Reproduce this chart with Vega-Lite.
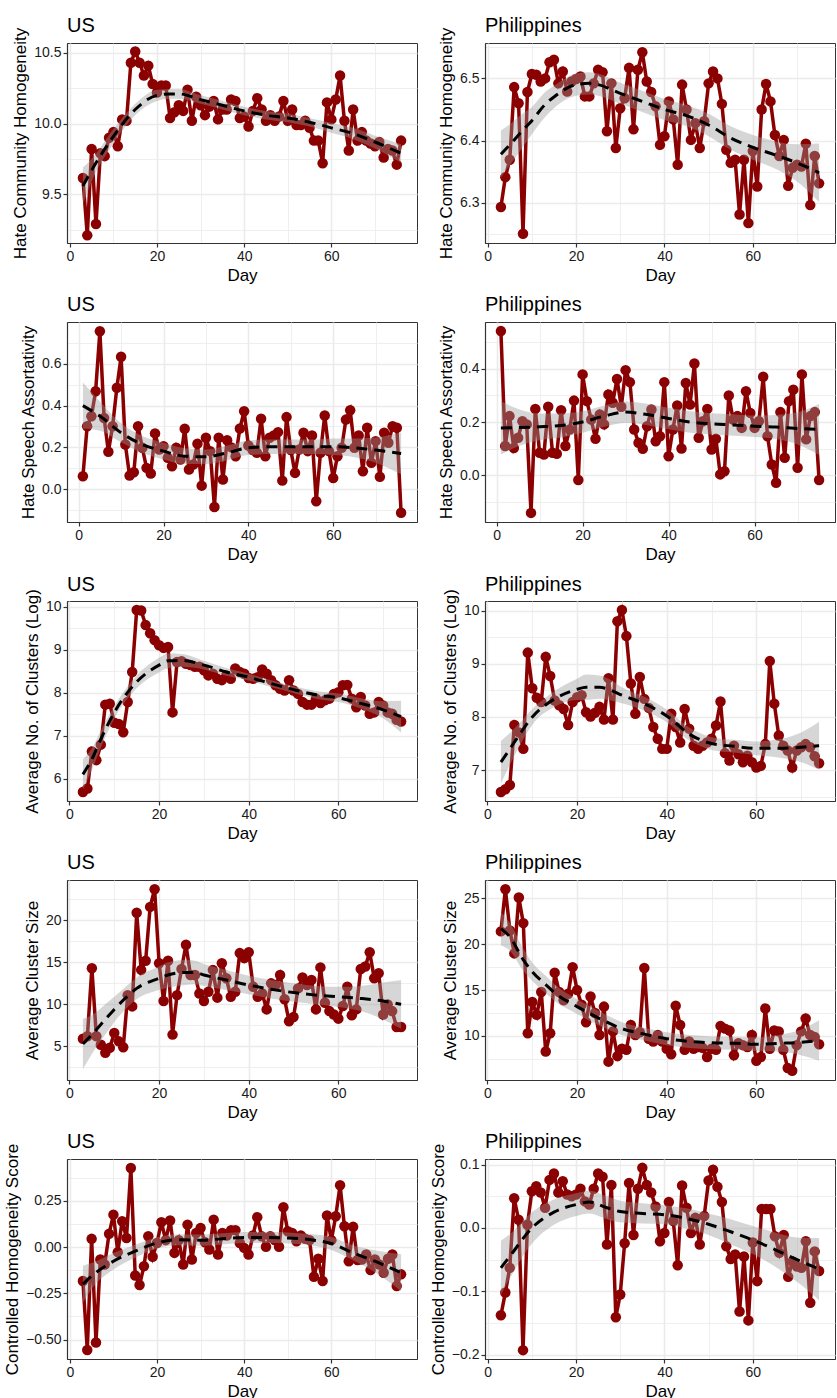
{
"$schema": "https://vega.github.io/schema/vega-lite/v6.json",
"background": "white",
"padding": {"left": 3, "top": 15, "right": 0, "bottom": 0},
"config": {
 "font": "Liberation Sans",
 "view": {"stroke": "#333333", "strokeWidth": 1},
 "title": {"fontSize": 20, "fontWeight": "normal", "anchor": "start", "frame": "group", "offset": 8, "color": "#000000"},
 "axis": {"labelFontSize": 14, "titleFontSize": 17, "titleFontWeight": "normal", "labelColor": "#1a1a1a", "titleColor": "#000000", "domainColor": "#333333", "domainWidth": 1.2, "tickColor": "#333333", "tickSize": 4, "tickWidth": 1.2, "gridColor": "#EBEBEB", "labelPadding": 2, "titlePadding": 4, "labelOverlap": false, "tickCount": 20},
 "axisX": {"labelFlush": false}
},
"datasets": {
"p1": [{"d":3,"v":9.615},{"d":4,"v":9.21},{"d":5,"v":9.82},{"d":6,"v":9.29},{"d":7,"v":9.79},{"d":8,"v":9.77},{"d":9,"v":9.9},{"d":10,"v":9.94},{"d":11,"v":9.84},{"d":12,"v":10.03},{"d":13,"v":10.02},{"d":14,"v":10.43},{"d":15,"v":10.51},{"d":16,"v":10.43},{"d":17,"v":10.34},{"d":18,"v":10.41},{"d":19,"v":10.28},{"d":20,"v":10.22},{"d":21,"v":10.27},{"d":22,"v":10.27},{"d":23,"v":10.04},{"d":24,"v":10.08},{"d":25,"v":10.13},{"d":26,"v":10.09},{"d":27,"v":10.24},{"d":28,"v":10.02},{"d":29,"v":10.19},{"d":30,"v":10.13},{"d":31,"v":10.06},{"d":32,"v":10.12},{"d":33,"v":10.16},{"d":34,"v":10.03},{"d":35,"v":10.1},{"d":36,"v":10.1},{"d":37,"v":10.17},{"d":38,"v":10.16},{"d":39,"v":10.04},{"d":40,"v":10.05},{"d":41,"v":9.98},{"d":42,"v":10.09},{"d":43,"v":10.18},{"d":44,"v":10.1},{"d":45,"v":10.02},{"d":46,"v":10.06},{"d":47,"v":10.02},{"d":48,"v":10.05},{"d":49,"v":10.16},{"d":50,"v":10.02},{"d":51,"v":10.1},{"d":52,"v":9.99},{"d":53,"v":9.99},{"d":54,"v":10.02},{"d":55,"v":9.97},{"d":56,"v":9.88},{"d":57,"v":9.88},{"d":58,"v":9.72},{"d":59,"v":10.15},{"d":60,"v":10.03},{"d":61,"v":10.17},{"d":62,"v":10.34},{"d":63,"v":10.02},{"d":64,"v":9.81},{"d":65,"v":10.1},{"d":66,"v":9.88},{"d":67,"v":9.94},{"d":68,"v":9.88},{"d":69,"v":9.86},{"d":70,"v":9.84},{"d":71,"v":9.87},{"d":72,"v":9.76},{"d":73,"v":9.82},{"d":74,"v":9.81},{"d":75,"v":9.71},{"d":76,"v":9.88}],
"p1s": [{"d":3,"f":9.56,"lo":9.43,"hi":9.69},{"d":5,"f":9.67,"lo":9.59,"hi":9.75},{"d":10,"f":9.91,"lo":9.86,"hi":9.96},{"d":15,"f":10.1,"lo":10.06,"hi":10.14},{"d":20,"f":10.2,"lo":10.16,"hi":10.24},{"d":23,"f":10.21,"lo":10.175,"hi":10.245},{"d":25,"f":10.21,"lo":10.175,"hi":10.245},{"d":30,"f":10.17,"lo":10.14,"hi":10.2},{"d":35,"f":10.13,"lo":10.1,"hi":10.16},{"d":40,"f":10.09,"lo":10.06,"hi":10.12},{"d":45,"f":10.06,"lo":10.03,"hi":10.09},{"d":50,"f":10.04,"lo":10.01,"hi":10.07},{"d":55,"f":10.01,"lo":9.98,"hi":10.04},{"d":60,"f":9.97,"lo":9.935,"hi":10.005},{"d":65,"f":9.93,"lo":9.89,"hi":9.97},{"d":70,"f":9.87,"lo":9.825,"hi":9.915},{"d":76,"f":9.79,"lo":9.725,"hi":9.855}],
"p2": [{"d":3,"v":6.293},{"d":4,"v":6.341},{"d":5,"v":6.369},{"d":6,"v":6.486},{"d":7,"v":6.46},{"d":8,"v":6.25},{"d":9,"v":6.478},{"d":10,"v":6.507},{"d":11,"v":6.506},{"d":12,"v":6.495},{"d":13,"v":6.5},{"d":14,"v":6.526},{"d":15,"v":6.53},{"d":16,"v":6.492},{"d":17,"v":6.511},{"d":18,"v":6.479},{"d":19,"v":6.495},{"d":20,"v":6.499},{"d":21,"v":6.503},{"d":22,"v":6.471},{"d":23,"v":6.471},{"d":24,"v":6.492},{"d":25,"v":6.514},{"d":26,"v":6.51},{"d":27,"v":6.415},{"d":28,"v":6.492},{"d":29,"v":6.388},{"d":30,"v":6.452},{"d":31,"v":6.468},{"d":32,"v":6.517},{"d":33,"v":6.418},{"d":34,"v":6.514},{"d":35,"v":6.542},{"d":36,"v":6.495},{"d":37,"v":6.478},{"d":38,"v":6.455},{"d":39,"v":6.393},{"d":40,"v":6.407},{"d":41,"v":6.463},{"d":42,"v":6.434},{"d":43,"v":6.361},{"d":44,"v":6.49},{"d":45,"v":6.45},{"d":46,"v":6.401},{"d":47,"v":6.428},{"d":48,"v":6.388},{"d":49,"v":6.431},{"d":50,"v":6.492},{"d":51,"v":6.511},{"d":52,"v":6.5},{"d":53,"v":6.459},{"d":54,"v":6.385},{"d":55,"v":6.364},{"d":56,"v":6.369},{"d":57,"v":6.281},{"d":58,"v":6.369},{"d":59,"v":6.267},{"d":60,"v":6.383},{"d":61,"v":6.326},{"d":62,"v":6.45},{"d":63,"v":6.491},{"d":64,"v":6.463},{"d":65,"v":6.409},{"d":66,"v":6.375},{"d":67,"v":6.401},{"d":68,"v":6.327},{"d":69,"v":6.356},{"d":70,"v":6.361},{"d":71,"v":6.358},{"d":72,"v":6.395},{"d":73,"v":6.296},{"d":74,"v":6.375},{"d":75,"v":6.331}],
"p2s": [{"d":3,"f":6.378,"lo":6.34,"hi":6.416},{"d":5,"f":6.393,"lo":6.36,"hi":6.426},{"d":8,"f":6.417,"lo":6.39,"hi":6.444},{"d":10,"f":6.432,"lo":6.41,"hi":6.454},{"d":13,"f":6.458,"lo":6.438,"hi":6.478},{"d":15,"f":6.47,"lo":6.452,"hi":6.488},{"d":20,"f":6.49,"lo":6.472,"hi":6.508},{"d":23,"f":6.492,"lo":6.474,"hi":6.51},{"d":25,"f":6.49,"lo":6.472,"hi":6.508},{"d":30,"f":6.476,"lo":6.459,"hi":6.493},{"d":35,"f":6.463,"lo":6.446,"hi":6.48},{"d":40,"f":6.45,"lo":6.433,"hi":6.467},{"d":45,"f":6.44,"lo":6.423,"hi":6.457},{"d":50,"f":6.425,"lo":6.407,"hi":6.443},{"d":55,"f":6.404,"lo":6.385,"hi":6.423},{"d":60,"f":6.389,"lo":6.369,"hi":6.409},{"d":65,"f":6.377,"lo":6.355,"hi":6.399},{"d":70,"f":6.364,"lo":6.334,"hi":6.394},{"d":75,"f":6.348,"lo":6.301,"hi":6.395}],
"p3": [{"d":1,"v":0.062},{"d":2,"v":0.301},{"d":3,"v":0.349},{"d":4,"v":0.469},{"d":5,"v":0.756},{"d":6,"v":0.341},{"d":7,"v":0.179},{"d":8,"v":0.301},{"d":9,"v":0.485},{"d":10,"v":0.634},{"d":11,"v":0.214},{"d":12,"v":0.065},{"d":13,"v":0.081},{"d":14,"v":0.301},{"d":15,"v":0.198},{"d":16,"v":0.102},{"d":17,"v":0.075},{"d":18,"v":0.267},{"d":19,"v":0.19},{"d":20,"v":0.206},{"d":21,"v":0.15},{"d":22,"v":0.11},{"d":23,"v":0.198},{"d":24,"v":0.142},{"d":25,"v":0.289},{"d":26,"v":0.094},{"d":27,"v":0.118},{"d":28,"v":0.218},{"d":29,"v":0.017},{"d":30,"v":0.246},{"d":31,"v":0.182},{"d":32,"v":-0.085},{"d":33,"v":0.246},{"d":34,"v":0.046},{"d":35,"v":0.234},{"d":36,"v":0.2},{"d":37,"v":0.158},{"d":38,"v":0.29},{"d":39,"v":0.373},{"d":40,"v":0.209},{"d":41,"v":0.187},{"d":42,"v":0.174},{"d":43,"v":0.337},{"d":44,"v":0.158},{"d":45,"v":0.246},{"d":46,"v":0.257},{"d":47,"v":0.273},{"d":48,"v":0.041},{"d":49,"v":0.345},{"d":50,"v":0.187},{"d":51,"v":0.078},{"d":52,"v":0.19},{"d":53,"v":0.27},{"d":54,"v":0.182},{"d":55,"v":0.257},{"d":56,"v":-0.058},{"d":57,"v":0.174},{"d":58,"v":0.353},{"d":59,"v":0.182},{"d":60,"v":0.053},{"d":61,"v":0.158},{"d":62,"v":0.198},{"d":63,"v":0.333},{"d":64,"v":0.378},{"d":65,"v":0.198},{"d":66,"v":0.257},{"d":67,"v":0.086},{"d":68,"v":0.294},{"d":69,"v":0.126},{"d":70,"v":0.23},{"d":71,"v":0.059},{"d":72,"v":0.27},{"d":73,"v":0.222},{"d":74,"v":0.301},{"d":75,"v":0.294},{"d":76,"v":-0.113}],
"p3s": [{"d":1,"f":0.4,"lo":0.29,"hi":0.51},{"d":5,"f":0.35,"lo":0.28,"hi":0.42},{"d":10,"f":0.27,"lo":0.225,"hi":0.315},{"d":15,"f":0.214,"lo":0.174,"hi":0.254},{"d":20,"f":0.182,"lo":0.142,"hi":0.222},{"d":25,"f":0.158,"lo":0.12,"hi":0.196},{"d":30,"f":0.155,"lo":0.12,"hi":0.19},{"d":35,"f":0.174,"lo":0.139,"hi":0.209},{"d":40,"f":0.198,"lo":0.163,"hi":0.233},{"d":45,"f":0.203,"lo":0.168,"hi":0.238},{"d":50,"f":0.203,"lo":0.168,"hi":0.238},{"d":55,"f":0.203,"lo":0.168,"hi":0.238},{"d":60,"f":0.203,"lo":0.163,"hi":0.243},{"d":65,"f":0.198,"lo":0.153,"hi":0.243},{"d":70,"f":0.187,"lo":0.127,"hi":0.247},{"d":76,"f":0.171,"lo":0.071,"hi":0.271}],
"p4": [{"d":1,"v":0.54},{"d":2,"v":0.11},{"d":3,"v":0.222},{"d":4,"v":0.103},{"d":5,"v":0.141},{"d":6,"v":0.203},{"d":7,"v":0.191},{"d":8,"v":-0.14},{"d":9,"v":0.249},{"d":10,"v":0.085},{"d":11,"v":0.078},{"d":12,"v":0.257},{"d":13,"v":0.085},{"d":14,"v":0.081},{"d":15,"v":0.244},{"d":16,"v":0.11},{"d":17,"v":0.172},{"d":18,"v":0.28},{"d":19,"v":-0.017},{"d":20,"v":0.378},{"d":21,"v":0.278},{"d":22,"v":0.209},{"d":23,"v":0.137},{"d":24,"v":0.228},{"d":25,"v":0.191},{"d":26,"v":0.303},{"d":27,"v":0.272},{"d":28,"v":0.361},{"d":29,"v":0.257},{"d":30,"v":0.394},{"d":31,"v":0.349},{"d":32,"v":0.172},{"d":33,"v":0.122},{"d":34,"v":0.1},{"d":35,"v":0.184},{"d":36,"v":0.247},{"d":37,"v":0.128},{"d":38,"v":0.147},{"d":39,"v":0.349},{"d":40,"v":0.072},{"d":41,"v":0.172},{"d":42,"v":0.262},{"d":43,"v":0.101},{"d":44,"v":0.346},{"d":45,"v":0.265},{"d":46,"v":0.419},{"d":47,"v":0.141},{"d":48,"v":0.203},{"d":49,"v":0.249},{"d":50,"v":0.097},{"d":51,"v":0.137},{"d":52,"v":0.004},{"d":53,"v":0.016},{"d":54,"v":0.299},{"d":55,"v":0.209},{"d":56,"v":0.222},{"d":57,"v":0.178},{"d":58,"v":0.315},{"d":59,"v":0.234},{"d":60,"v":0.178},{"d":61,"v":0.203},{"d":62,"v":0.369},{"d":63,"v":0.147},{"d":64,"v":0.041},{"d":65,"v":-0.027},{"d":66,"v":0.237},{"d":67,"v":0.066},{"d":68,"v":0.278},{"d":69,"v":0.321},{"d":70,"v":0.029},{"d":71,"v":0.378},{"d":72,"v":0.135},{"d":73,"v":0.222},{"d":74,"v":0.237},{"d":75,"v":-0.017}],
"p4s": [{"d":1,"f":0.178,"lo":0.078,"hi":0.278},{"d":5,"f":0.179,"lo":0.109,"hi":0.249},{"d":10,"f":0.182,"lo":0.132,"hi":0.232},{"d":15,"f":0.187,"lo":0.142,"hi":0.232},{"d":20,"f":0.2,"lo":0.16,"hi":0.24},{"d":25,"f":0.222,"lo":0.182,"hi":0.262},{"d":30,"f":0.237,"lo":0.197,"hi":0.277},{"d":35,"f":0.228,"lo":0.188,"hi":0.268},{"d":40,"f":0.213,"lo":0.173,"hi":0.253},{"d":45,"f":0.2,"lo":0.16,"hi":0.24},{"d":50,"f":0.193,"lo":0.153,"hi":0.233},{"d":55,"f":0.189,"lo":0.149,"hi":0.229},{"d":60,"f":0.184,"lo":0.144,"hi":0.224},{"d":65,"f":0.181,"lo":0.136,"hi":0.226},{"d":70,"f":0.176,"lo":0.116,"hi":0.236},{"d":75,"f":0.172,"lo":0.077,"hi":0.267}],
"p5": [{"d":3,"v":5.69},{"d":4,"v":5.77},{"d":5,"v":6.63},{"d":6,"v":6.43},{"d":7,"v":6.79},{"d":8,"v":7.72},{"d":9,"v":7.74},{"d":10,"v":7.3},{"d":11,"v":7.27},{"d":12,"v":7.08},{"d":13,"v":7.78},{"d":14,"v":8.48},{"d":15,"v":9.92},{"d":16,"v":9.91},{"d":17,"v":9.57},{"d":18,"v":9.38},{"d":19,"v":9.22},{"d":20,"v":9.1},{"d":21,"v":9.04},{"d":22,"v":9.06},{"d":23,"v":7.54},{"d":24,"v":8.71},{"d":25,"v":8.73},{"d":26,"v":8.67},{"d":27,"v":8.64},{"d":28,"v":8.6},{"d":29,"v":8.6},{"d":30,"v":8.52},{"d":31,"v":8.4},{"d":32,"v":8.44},{"d":33,"v":8.32},{"d":34,"v":8.29},{"d":35,"v":8.4},{"d":36,"v":8.32},{"d":37,"v":8.56},{"d":38,"v":8.48},{"d":39,"v":8.44},{"d":40,"v":8.34},{"d":41,"v":8.32},{"d":42,"v":8.36},{"d":43,"v":8.54},{"d":44,"v":8.44},{"d":45,"v":8.29},{"d":46,"v":8.17},{"d":47,"v":8.09},{"d":48,"v":8.05},{"d":49,"v":8.29},{"d":50,"v":8.05},{"d":51,"v":7.97},{"d":52,"v":7.78},{"d":53,"v":7.72},{"d":54,"v":7.72},{"d":55,"v":7.86},{"d":56,"v":7.76},{"d":57,"v":7.82},{"d":58,"v":7.86},{"d":59,"v":7.97},{"d":60,"v":8.01},{"d":61,"v":8.17},{"d":62,"v":8.18},{"d":63,"v":7.86},{"d":64,"v":7.66},{"d":65,"v":7.9},{"d":66,"v":7.7},{"d":67,"v":7.51},{"d":68,"v":7.54},{"d":69,"v":7.78},{"d":70,"v":7.7},{"d":71,"v":7.54},{"d":72,"v":7.51},{"d":73,"v":7.37},{"d":74,"v":7.33}],
"p5s": [{"d":3,"f":6.1,"lo":5.75,"hi":6.45},{"d":5,"f":6.45,"lo":6.2,"hi":6.7},{"d":7,"f":6.92,"lo":6.72,"hi":7.12},{"d":10,"f":7.54,"lo":7.39,"hi":7.69},{"d":15,"f":8.25,"lo":8.1,"hi":8.4},{"d":20,"f":8.64,"lo":8.47,"hi":8.81},{"d":22,"f":8.74,"lo":8.57,"hi":8.91},{"d":25,"f":8.75,"lo":8.6,"hi":8.9},{"d":30,"f":8.64,"lo":8.54,"hi":8.74},{"d":35,"f":8.48,"lo":8.39,"hi":8.57},{"d":40,"f":8.36,"lo":8.28,"hi":8.44},{"d":45,"f":8.21,"lo":8.13,"hi":8.29},{"d":50,"f":8.07,"lo":7.99,"hi":8.15},{"d":55,"f":7.95,"lo":7.86,"hi":8.04},{"d":60,"f":7.88,"lo":7.78,"hi":7.98},{"d":65,"f":7.75,"lo":7.63,"hi":7.87},{"d":70,"f":7.6,"lo":7.4,"hi":7.8},{"d":74,"f":7.44,"lo":7.07,"hi":7.81}],
"p6": [{"d":3,"v":6.59},{"d":4,"v":6.64},{"d":5,"v":6.72},{"d":6,"v":7.85},{"d":7,"v":7.71},{"d":8,"v":7.4},{"d":9,"v":9.21},{"d":10,"v":8.54},{"d":11,"v":8.36},{"d":12,"v":8.28},{"d":13,"v":9.13},{"d":14,"v":8.77},{"d":15,"v":8.31},{"d":16,"v":8.22},{"d":17,"v":8.15},{"d":18,"v":7.85},{"d":19,"v":8.28},{"d":20,"v":8.37},{"d":21,"v":8.41},{"d":22,"v":8.09},{"d":23,"v":8.01},{"d":24,"v":8.08},{"d":25,"v":8.19},{"d":26,"v":7.95},{"d":27,"v":8.73},{"d":28,"v":7.95},{"d":29,"v":9.8},{"d":30,"v":10.01},{"d":31,"v":9.52},{"d":32,"v":8.63},{"d":33,"v":8.06},{"d":34,"v":8.75},{"d":35,"v":8.34},{"d":36,"v":8.17},{"d":37,"v":7.81},{"d":38,"v":7.59},{"d":39,"v":7.4},{"d":40,"v":7.4},{"d":41,"v":8.06},{"d":42,"v":7.81},{"d":43,"v":7.52},{"d":44,"v":8.15},{"d":45,"v":7.78},{"d":46,"v":7.46},{"d":47,"v":7.4},{"d":48,"v":7.46},{"d":49,"v":7.52},{"d":50,"v":7.59},{"d":51,"v":7.84},{"d":52,"v":8.29},{"d":53,"v":7.32},{"d":54,"v":7.18},{"d":55,"v":7.46},{"d":56,"v":7.3},{"d":57,"v":7.15},{"d":58,"v":7.27},{"d":59,"v":7.15},{"d":60,"v":7.05},{"d":61,"v":7.08},{"d":62,"v":7.49},{"d":63,"v":9.05},{"d":64,"v":8.25},{"d":65,"v":7.65},{"d":66,"v":7.46},{"d":67,"v":7.37},{"d":68,"v":7.05},{"d":69,"v":7.37},{"d":70,"v":7.43},{"d":71,"v":7.49},{"d":72,"v":7.43},{"d":73,"v":7.26},{"d":74,"v":7.13}],
"p6s": [{"d":3,"f":7.15,"lo":6.75,"hi":7.55},{"d":5,"f":7.4,"lo":7.1,"hi":7.7},{"d":7,"f":7.65,"lo":7.43,"hi":7.87},{"d":10,"f":8.0,"lo":7.85,"hi":8.15},{"d":15,"f":8.34,"lo":8.19,"hi":8.49},{"d":20,"f":8.52,"lo":8.32,"hi":8.72},{"d":22,"f":8.56,"lo":8.32,"hi":8.8},{"d":25,"f":8.56,"lo":8.34,"hi":8.78},{"d":27,"f":8.52,"lo":8.32,"hi":8.72},{"d":30,"f":8.41,"lo":8.26,"hi":8.56},{"d":35,"f":8.25,"lo":8.12,"hi":8.38},{"d":40,"f":8.02,"lo":7.9,"hi":8.14},{"d":45,"f":7.68,"lo":7.56,"hi":7.8},{"d":50,"f":7.5,"lo":7.38,"hi":7.62},{"d":55,"f":7.45,"lo":7.33,"hi":7.57},{"d":60,"f":7.41,"lo":7.28,"hi":7.54},{"d":65,"f":7.41,"lo":7.24,"hi":7.58},{"d":70,"f":7.43,"lo":7.15,"hi":7.71},{"d":74,"f":7.46,"lo":7.01,"hi":7.91}],
"p7": [{"d":3,"v":5.9},{"d":4,"v":6.2},{"d":5,"v":14.3},{"d":6,"v":6.2},{"d":7,"v":5.2},{"d":8,"v":4.25},{"d":9,"v":4.84},{"d":10,"v":6.6},{"d":11,"v":5.6},{"d":12,"v":4.9},{"d":13,"v":11.1},{"d":14,"v":9.76},{"d":15,"v":20.9},{"d":16,"v":14.1},{"d":17,"v":15.2},{"d":18,"v":21.6},{"d":19,"v":23.7},{"d":20,"v":14.9},{"d":21,"v":10.4},{"d":22,"v":15.2},{"d":23,"v":6.4},{"d":24,"v":11.1},{"d":25,"v":14.2},{"d":26,"v":17.1},{"d":27,"v":13.5},{"d":28,"v":13.5},{"d":29,"v":11.3},{"d":30,"v":10.4},{"d":31,"v":11.5},{"d":32,"v":14.1},{"d":33,"v":10.8},{"d":34,"v":14.9},{"d":35,"v":13.1},{"d":36,"v":10.9},{"d":37,"v":11.5},{"d":38,"v":16.1},{"d":39,"v":15.5},{"d":40,"v":16.2},{"d":41,"v":12.1},{"d":42,"v":10.9},{"d":43,"v":11.3},{"d":44,"v":9.4},{"d":45,"v":12.5},{"d":46,"v":12.3},{"d":47,"v":13.5},{"d":48,"v":10.6},{"d":49,"v":8.0},{"d":50,"v":8.5},{"d":51,"v":11.9},{"d":52,"v":13.2},{"d":53,"v":12.3},{"d":54,"v":12.9},{"d":55,"v":9.4},{"d":56,"v":14.4},{"d":57,"v":10.2},{"d":58,"v":9.2},{"d":59,"v":8.8},{"d":60,"v":8.3},{"d":61,"v":9.8},{"d":62,"v":12.1},{"d":63,"v":8.7},{"d":64,"v":9.4},{"d":65,"v":14.2},{"d":66,"v":14.5},{"d":67,"v":16.2},{"d":68,"v":13.1},{"d":69,"v":13.7},{"d":70,"v":8.8},{"d":71,"v":10.0},{"d":72,"v":9.2},{"d":73,"v":7.3},{"d":74,"v":7.3}],
"p7s": [{"d":3,"f":5.3,"lo":2.3,"hi":8.3},{"d":5,"f":6.4,"lo":4.1,"hi":8.7},{"d":8,"f":8.2,"lo":6.4,"hi":10.0},{"d":10,"f":9.4,"lo":7.9,"hi":10.9},{"d":13,"f":11.0,"lo":9.7,"hi":12.3},{"d":15,"f":11.9,"lo":10.6,"hi":13.2},{"d":20,"f":13.1,"lo":11.7,"hi":14.5},{"d":22,"f":13.5,"lo":12.0,"hi":15.0},{"d":26,"f":13.8,"lo":12.3,"hi":15.3},{"d":28,"f":13.8,"lo":12.4,"hi":15.2},{"d":30,"f":13.5,"lo":12.2,"hi":14.8},{"d":35,"f":12.9,"lo":11.7,"hi":14.1},{"d":40,"f":12.3,"lo":11.2,"hi":13.4},{"d":45,"f":11.8,"lo":10.7,"hi":12.9},{"d":50,"f":11.4,"lo":10.3,"hi":12.5},{"d":55,"f":11.1,"lo":10.0,"hi":12.2},{"d":60,"f":10.9,"lo":9.7,"hi":12.1},{"d":65,"f":10.7,"lo":9.2,"hi":12.2},{"d":70,"f":10.4,"lo":8.2,"hi":12.6},{"d":74,"f":10.0,"lo":7.1,"hi":12.9}],
"p8": [{"d":3,"v":21.4},{"d":4,"v":26.0},{"d":5,"v":21.5},{"d":6,"v":19.0},{"d":7,"v":25.1},{"d":8,"v":22.3},{"d":9,"v":10.3},{"d":10,"v":13.7},{"d":11,"v":12.3},{"d":12,"v":14.8},{"d":13,"v":8.3},{"d":14,"v":10.3},{"d":15,"v":16.9},{"d":16,"v":14.8},{"d":17,"v":13.9},{"d":18,"v":14.6},{"d":19,"v":17.5},{"d":20,"v":15.0},{"d":21,"v":13.4},{"d":22,"v":11.5},{"d":23,"v":14.3},{"d":24,"v":12.5},{"d":25,"v":10.1},{"d":26,"v":13.2},{"d":27,"v":7.2},{"d":28,"v":10.5},{"d":29,"v":7.8},{"d":30,"v":8.6},{"d":31,"v":8.5},{"d":32,"v":11.2},{"d":33,"v":10.1},{"d":34,"v":10.4},{"d":35,"v":17.4},{"d":36,"v":9.7},{"d":37,"v":9.4},{"d":38,"v":10.1},{"d":39,"v":9.4},{"d":40,"v":8.6},{"d":41,"v":8.0},{"d":42,"v":13.3},{"d":43,"v":11.2},{"d":44,"v":8.5},{"d":45,"v":9.4},{"d":46,"v":8.6},{"d":47,"v":8.8},{"d":48,"v":8.7},{"d":49,"v":7.7},{"d":50,"v":8.6},{"d":51,"v":8.5},{"d":52,"v":11.1},{"d":53,"v":10.8},{"d":54,"v":10.6},{"d":55,"v":7.9},{"d":56,"v":9.2},{"d":57,"v":9.0},{"d":58,"v":8.8},{"d":59,"v":10.1},{"d":60,"v":7.3},{"d":61,"v":7.7},{"d":62,"v":13.0},{"d":63,"v":8.6},{"d":64,"v":10.6},{"d":65,"v":10.5},{"d":66,"v":8.5},{"d":67,"v":6.5},{"d":68,"v":6.2},{"d":69,"v":9.0},{"d":70,"v":10.5},{"d":71,"v":11.9},{"d":72,"v":10.1},{"d":73,"v":9.9},{"d":74,"v":9.1}],
"p8s": [{"d":3,"f":21.7,"lo":19.9,"hi":23.5},{"d":5,"f":20.8,"lo":19.3,"hi":22.3},{"d":8,"f":18.3,"lo":17.1,"hi":19.5},{"d":10,"f":17.0,"lo":16.0,"hi":18.0},{"d":13,"f":15.6,"lo":14.65,"hi":16.55},{"d":15,"f":14.7,"lo":13.8,"hi":15.6},{"d":20,"f":13.2,"lo":12.4,"hi":14.0},{"d":25,"f":11.9,"lo":11.1,"hi":12.7},{"d":30,"f":10.8,"lo":10.1,"hi":11.5},{"d":35,"f":10.2,"lo":9.5,"hi":10.9},{"d":40,"f":9.7,"lo":9.0,"hi":10.4},{"d":45,"f":9.4,"lo":8.7,"hi":10.1},{"d":50,"f":9.25,"lo":8.55,"hi":9.95},{"d":55,"f":9.2,"lo":8.5,"hi":9.9},{"d":60,"f":9.1,"lo":8.35,"hi":9.85},{"d":65,"f":9.2,"lo":8.3,"hi":10.1},{"d":70,"f":9.3,"lo":7.9,"hi":10.7},{"d":74,"f":9.5,"lo":7.3,"hi":11.7}],
"p9": [{"d":3,"v":-0.183},{"d":4,"v":-0.556},{"d":5,"v":0.045},{"d":6,"v":-0.516},{"d":7,"v":-0.067},{"d":8,"v":-0.094},{"d":9,"v":0.072},{"d":10,"v":0.176},{"d":11,"v":-0.027},{"d":12,"v":0.14},{"d":13,"v":0.05},{"d":14,"v":0.428},{"d":15,"v":-0.153},{"d":16,"v":-0.205},{"d":17,"v":-0.103},{"d":18,"v":0.059},{"d":19,"v":-0.052},{"d":20,"v":0.023},{"d":21,"v":0.135},{"d":22,"v":0.038},{"d":23,"v":0.144},{"d":24,"v":-0.031},{"d":25,"v":0.038},{"d":26,"v":-0.094},{"d":27,"v":0.122},{"d":28,"v":-0.067},{"d":29,"v":0.077},{"d":30,"v":0.104},{"d":31,"v":0.027},{"d":32,"v":-0.013},{"d":33,"v":0.149},{"d":34,"v":-0.04},{"d":35,"v":0.077},{"d":36,"v":0.063},{"d":37,"v":0.092},{"d":38,"v":0.092},{"d":39,"v":0.023},{"d":40,"v":-0.004},{"d":41,"v":-0.04},{"d":42,"v":0.063},{"d":43,"v":0.162},{"d":44,"v":0.059},{"d":45,"v":0.002},{"d":46,"v":0.059},{"d":47,"v":0.038},{"d":48,"v":0.002},{"d":49,"v":0.216},{"d":50,"v":0.086},{"d":51,"v":0.077},{"d":52,"v":0.032},{"d":53,"v":0.063},{"d":54,"v":0.045},{"d":55,"v":0.038},{"d":56,"v":-0.16},{"d":57,"v":-0.063},{"d":58,"v":-0.183},{"d":59,"v":0.171},{"d":60,"v":0.038},{"d":61,"v":0.167},{"d":62,"v":0.335},{"d":63,"v":0.113},{"d":64,"v":-0.076},{"d":65,"v":0.11},{"d":66,"v":-0.07},{"d":67,"v":-0.067},{"d":68,"v":-0.04},{"d":69,"v":-0.124},{"d":70,"v":-0.067},{"d":71,"v":-0.094},{"d":72,"v":-0.138},{"d":73,"v":-0.063},{"d":74,"v":-0.04},{"d":75,"v":-0.21},{"d":76,"v":-0.147}],
"p9s": [{"d":3,"f":-0.2,"lo":-0.3,"hi":-0.1},{"d":5,"f":-0.156,"lo":-0.226,"hi":-0.086},{"d":10,"f":-0.076,"lo":-0.121,"hi":-0.031},{"d":15,"f":-0.022,"lo":-0.057,"hi":0.013},{"d":20,"f":0.023,"lo":-0.007,"hi":0.053},{"d":25,"f":0.04,"lo":0.01,"hi":0.07},{"d":30,"f":0.038,"lo":0.008,"hi":0.068},{"d":35,"f":0.045,"lo":0.015,"hi":0.075},{"d":40,"f":0.052,"lo":0.022,"hi":0.082},{"d":45,"f":0.052,"lo":0.022,"hi":0.082},{"d":50,"f":0.05,"lo":0.02,"hi":0.08},{"d":55,"f":0.041,"lo":0.011,"hi":0.071},{"d":60,"f":0.02,"lo":-0.015,"hi":0.055},{"d":65,"f":-0.031,"lo":-0.071,"hi":0.009},{"d":70,"f":-0.076,"lo":-0.136,"hi":-0.016},{"d":76,"f":-0.138,"lo":-0.238,"hi":-0.038}],
"p10": [{"d":3,"v":-0.138},{"d":4,"v":-0.102},{"d":5,"v":-0.063},{"d":6,"v":0.047},{"d":7,"v":0.013},{"d":8,"v":-0.193},{"d":9,"v":0.005},{"d":10,"v":0.058},{"d":11,"v":0.066},{"d":12,"v":0.056},{"d":13,"v":0.032},{"d":14,"v":0.076},{"d":15,"v":0.086},{"d":16,"v":0.056},{"d":17,"v":0.074},{"d":18,"v":0.053},{"d":19,"v":0.05},{"d":20,"v":0.053},{"d":21,"v":0.062},{"d":22,"v":0.042},{"d":23,"v":0.037},{"d":24,"v":0.062},{"d":25,"v":0.086},{"d":26,"v":0.081},{"d":27,"v":-0.026},{"d":28,"v":0.068},{"d":29,"v":-0.141},{"d":30,"v":-0.105},{"d":31,"v":-0.024},{"d":32,"v":0.071},{"d":33,"v":-0.011},{"d":34,"v":0.062},{"d":35,"v":0.095},{"d":36,"v":0.068},{"d":37,"v":0.056},{"d":38,"v":0.034},{"d":39,"v":-0.021},{"d":40,"v":-0.008},{"d":41,"v":0.041},{"d":42,"v":0.011},{"d":43,"v":-0.059},{"d":44,"v":0.067},{"d":45,"v":0.032},{"d":46,"v":-0.008},{"d":47,"v":0.016},{"d":48,"v":-0.026},{"d":49,"v":0.019},{"d":50,"v":0.075},{"d":51,"v":0.092},{"d":52,"v":0.065},{"d":53,"v":0.041},{"d":54,"v":-0.029},{"d":55,"v":-0.049},{"d":56,"v":-0.042},{"d":57,"v":-0.132},{"d":58,"v":-0.045},{"d":59,"v":-0.146},{"d":60,"v":-0.023},{"d":61,"v":-0.084},{"d":62,"v":0.03},{"d":63,"v":0.03},{"d":64,"v":0.03},{"d":65,"v":-0.013},{"d":66,"v":-0.039},{"d":67,"v":-0.011},{"d":68,"v":-0.077},{"d":69,"v":-0.053},{"d":70,"v":-0.061},{"d":71,"v":-0.063},{"d":72,"v":-0.021},{"d":73,"v":-0.118},{"d":74,"v":-0.037},{"d":75,"v":-0.068}],
"p10s": [{"d":3,"f":-0.063,"lo":-0.106,"hi":-0.02},{"d":5,"f":-0.045,"lo":-0.08,"hi":-0.01},{"d":10,"f":0.0,"lo":-0.025,"hi":0.025},{"d":15,"f":0.025,"lo":0.005,"hi":0.045},{"d":20,"f":0.037,"lo":0.019,"hi":0.055},{"d":23,"f":0.041,"lo":0.023,"hi":0.059},{"d":27,"f":0.032,"lo":0.014,"hi":0.05},{"d":30,"f":0.026,"lo":0.009,"hi":0.043},{"d":35,"f":0.023,"lo":0.007,"hi":0.039},{"d":40,"f":0.021,"lo":0.006,"hi":0.036},{"d":45,"f":0.015,"lo":-0.001,"hi":0.031},{"d":50,"f":0.006,"lo":-0.011,"hi":0.023},{"d":55,"f":-0.006,"lo":-0.026,"hi":0.014},{"d":60,"f":-0.019,"lo":-0.041,"hi":0.003},{"d":65,"f":-0.034,"lo":-0.061,"hi":-0.007},{"d":70,"f":-0.05,"lo":-0.085,"hi":-0.015},{"d":75,"f":-0.065,"lo":-0.114,"hi":-0.016}]
},
"columns": 2,
"bounds": "flush",
"spacing": {"row": 79, "column": 68},
"concat": [
{"width": 350, "height": 200, "title": {"text": "US", "offset": -9},
 "encoding": {"x": {"field": "d", "type": "quantitative", "scale": {"domain": [-0.65, 79.65], "nice": false, "zero": false}, "axis": {"title": "Day", "tickCount": 20, "labelOverlap": false, "values": [0,10,20,30,40,50,60,70], "labelExpr": "datum.value % 20 === 0 ? datum.label : ' '", "gridWidth": {"condition": {"test": "datum.value % 20 === 0", "value": 1.6}, "value": 0.8}, "tickOpacity": {"condition": {"test": "datum.value % 20 === 0", "value": 1}, "value": 0}}}},
 "layer": [
  {"data": {"name": "p1"}, "mark": {"type": "line", "color": "#8B0000", "strokeWidth": 3.5}, "encoding": {"y": {"field": "v", "type": "quantitative", "title": "Hate Community Homogeneity", "scale": {"domain": [9.156, 10.57], "nice": false, "zero": false}, "axis": {"tickCount": 20, "labelOverlap": false, "values": [9.25,9.5,9.75,10,10.25,10.5], "format": ".1f", "labelExpr": "(datum.value == 9.5 || datum.value == 10 || datum.value == 10.5) ? datum.label : ' '", "gridWidth": {"condition": {"test": "datum.value == 9.5 || datum.value == 10 || datum.value == 10.5", "value": 1.6}, "value": 0.8}, "tickOpacity": {"condition": {"test": "datum.value == 9.5 || datum.value == 10 || datum.value == 10.5", "value": 1}, "value": 0}}}}},
  {"data": {"name": "p1"}, "mark": {"type": "circle", "color": "#8B0000", "size": 110, "opacity": 1}, "encoding": {"y": {"field": "v", "type": "quantitative", "title": "Hate Community Homogeneity"}}},
  {"data": {"name": "p1s"}, "mark": {"type": "area", "color": "#999999", "opacity": 0.4, "interpolate": "monotone"}, "encoding": {"y": {"field": "lo", "type": "quantitative", "title": "Hate Community Homogeneity"}, "y2": {"field": "hi"}}},
  {"data": {"name": "p1s"}, "mark": {"type": "line", "color": "#000000", "strokeWidth": 3, "strokeDash": [11, 7], "interpolate": "monotone"}, "encoding": {"y": {"field": "f", "type": "quantitative", "title": "Hate Community Homogeneity"}}}
 ]},
{"width": 350, "height": 200, "title": {"text": "Philippines", "offset": -9},
 "encoding": {"x": {"field": "d", "type": "quantitative", "scale": {"domain": [-0.6, 78.6], "nice": false, "zero": false}, "axis": {"title": "Day", "tickCount": 20, "labelOverlap": false, "values": [0,10,20,30,40,50,60,70], "labelExpr": "datum.value % 20 === 0 ? datum.label : ' '", "gridWidth": {"condition": {"test": "datum.value % 20 === 0", "value": 1.6}, "value": 0.8}, "tickOpacity": {"condition": {"test": "datum.value % 20 === 0", "value": 1}, "value": 0}}}},
 "layer": [
  {"data": {"name": "p2"}, "mark": {"type": "line", "color": "#8B0000", "strokeWidth": 3.5}, "encoding": {"y": {"field": "v", "type": "quantitative", "title": "Hate Community Homogeneity", "scale": {"domain": [6.235, 6.557], "nice": false, "zero": false}, "axis": {"tickCount": 20, "labelOverlap": false, "values": [6.25,6.3,6.35,6.4,6.45,6.5,6.55], "format": ".1f", "labelExpr": "(datum.value == 6.3 || datum.value == 6.4 || datum.value == 6.5) ? datum.label : ' '", "gridWidth": {"condition": {"test": "datum.value == 6.3 || datum.value == 6.4 || datum.value == 6.5", "value": 1.6}, "value": 0.8}, "tickOpacity": {"condition": {"test": "datum.value == 6.3 || datum.value == 6.4 || datum.value == 6.5", "value": 1}, "value": 0}}}}},
  {"data": {"name": "p2"}, "mark": {"type": "circle", "color": "#8B0000", "size": 110, "opacity": 1}, "encoding": {"y": {"field": "v", "type": "quantitative", "title": "Hate Community Homogeneity"}}},
  {"data": {"name": "p2s"}, "mark": {"type": "area", "color": "#999999", "opacity": 0.4, "interpolate": "monotone"}, "encoding": {"y": {"field": "lo", "type": "quantitative", "title": "Hate Community Homogeneity"}, "y2": {"field": "hi"}}},
  {"data": {"name": "p2s"}, "mark": {"type": "line", "color": "#000000", "strokeWidth": 3, "strokeDash": [11, 7], "interpolate": "monotone"}, "encoding": {"y": {"field": "f", "type": "quantitative", "title": "Hate Community Homogeneity"}}}
 ]},
{"width": 350, "height": 200, "title": {"text": "US", "offset": 7},
 "encoding": {"x": {"field": "d", "type": "quantitative", "scale": {"domain": [-2.75, 79.75], "nice": false, "zero": false}, "axis": {"title": "Day", "tickCount": 20, "labelOverlap": false, "values": [0,10,20,30,40,50,60,70], "labelExpr": "datum.value % 20 === 0 ? datum.label : ' '", "gridWidth": {"condition": {"test": "datum.value % 20 === 0", "value": 1.6}, "value": 0.8}, "tickOpacity": {"condition": {"test": "datum.value % 20 === 0", "value": 1}, "value": 0}}}},
 "layer": [
  {"data": {"name": "p3"}, "mark": {"type": "line", "color": "#8B0000", "strokeWidth": 3.5}, "encoding": {"y": {"field": "v", "type": "quantitative", "title": "Hate Speech Assortativity", "scale": {"domain": [-0.157, 0.8], "nice": false, "zero": false}, "axis": {"tickCount": 20, "labelOverlap": false, "values": [-0.1,0,0.1,0.2,0.3,0.4,0.5,0.6,0.7], "format": ".1f", "labelExpr": "(datum.value == 0 || datum.value == 0.2 || datum.value == 0.4 || datum.value == 0.6) ? datum.label : ' '", "gridWidth": {"condition": {"test": "datum.value == 0 || datum.value == 0.2 || datum.value == 0.4 || datum.value == 0.6", "value": 1.6}, "value": 0.8}, "tickOpacity": {"condition": {"test": "datum.value == 0 || datum.value == 0.2 || datum.value == 0.4 || datum.value == 0.6", "value": 1}, "value": 0}}}}},
  {"data": {"name": "p3"}, "mark": {"type": "circle", "color": "#8B0000", "size": 110, "opacity": 1}, "encoding": {"y": {"field": "v", "type": "quantitative", "title": "Hate Speech Assortativity"}}},
  {"data": {"name": "p3s"}, "mark": {"type": "area", "color": "#999999", "opacity": 0.4, "interpolate": "monotone"}, "encoding": {"y": {"field": "lo", "type": "quantitative", "title": "Hate Speech Assortativity"}, "y2": {"field": "hi"}}},
  {"data": {"name": "p3s"}, "mark": {"type": "line", "color": "#000000", "strokeWidth": 3, "strokeDash": [11, 7], "interpolate": "monotone"}, "encoding": {"y": {"field": "f", "type": "quantitative", "title": "Hate Speech Assortativity"}}}
 ]},
{"width": 350, "height": 200, "title": {"text": "Philippines", "offset": 7},
 "encoding": {"x": {"field": "d", "type": "quantitative", "scale": {"domain": [-2.7, 78.7], "nice": false, "zero": false}, "axis": {"title": "Day", "tickCount": 20, "labelOverlap": false, "values": [0,10,20,30,40,50,60,70], "labelExpr": "datum.value % 20 === 0 ? datum.label : ' '", "gridWidth": {"condition": {"test": "datum.value % 20 === 0", "value": 1.6}, "value": 0.8}, "tickOpacity": {"condition": {"test": "datum.value % 20 === 0", "value": 1}, "value": 0}}}},
 "layer": [
  {"data": {"name": "p4"}, "mark": {"type": "line", "color": "#8B0000", "strokeWidth": 3.5}, "encoding": {"y": {"field": "v", "type": "quantitative", "title": "Hate Speech Assortativity", "scale": {"domain": [-0.174, 0.574], "nice": false, "zero": false}, "axis": {"tickCount": 20, "labelOverlap": false, "values": [-0.1,0,0.1,0.2,0.3,0.4,0.5], "format": ".1f", "labelExpr": "(datum.value == 0 || datum.value == 0.2 || datum.value == 0.4) ? datum.label : ' '", "gridWidth": {"condition": {"test": "datum.value == 0 || datum.value == 0.2 || datum.value == 0.4", "value": 1.6}, "value": 0.8}, "tickOpacity": {"condition": {"test": "datum.value == 0 || datum.value == 0.2 || datum.value == 0.4", "value": 1}, "value": 0}}}}},
  {"data": {"name": "p4"}, "mark": {"type": "circle", "color": "#8B0000", "size": 110, "opacity": 1}, "encoding": {"y": {"field": "v", "type": "quantitative", "title": "Hate Speech Assortativity"}}},
  {"data": {"name": "p4s"}, "mark": {"type": "area", "color": "#999999", "opacity": 0.4, "interpolate": "monotone"}, "encoding": {"y": {"field": "lo", "type": "quantitative", "title": "Hate Speech Assortativity"}, "y2": {"field": "hi"}}},
  {"data": {"name": "p4s"}, "mark": {"type": "line", "color": "#000000", "strokeWidth": 3, "strokeDash": [11, 7], "interpolate": "monotone"}, "encoding": {"y": {"field": "f", "type": "quantitative", "title": "Hate Speech Assortativity"}}}
 ]},
{"width": 350, "height": 200, "title": {"text": "US", "offset": -6},
 "encoding": {"x": {"field": "d", "type": "quantitative", "scale": {"domain": [-0.55, 77.55], "nice": false, "zero": false}, "axis": {"title": "Day", "tickCount": 20, "labelOverlap": false, "values": [0,10,20,30,40,50,60,70], "labelExpr": "datum.value % 20 === 0 ? datum.label : ' '", "gridWidth": {"condition": {"test": "datum.value % 20 === 0", "value": 1.6}, "value": 0.8}, "tickOpacity": {"condition": {"test": "datum.value % 20 === 0", "value": 1}, "value": 0}}}},
 "layer": [
  {"data": {"name": "p5"}, "mark": {"type": "line", "color": "#8B0000", "strokeWidth": 3.5}, "encoding": {"y": {"field": "v", "type": "quantitative", "title": "Average No. of Clusters (Log)", "scale": {"domain": [5.48, 10.13], "nice": false, "zero": false}, "axis": {"tickCount": 20, "labelOverlap": false, "values": [5.5,6,6.5,7,7.5,8,8.5,9,9.5,10], "format": ".0f", "labelExpr": "datum.value % 1 == 0 ? datum.label : ' '", "gridWidth": {"condition": {"test": "datum.value % 1 == 0", "value": 1.6}, "value": 0.8}, "tickOpacity": {"condition": {"test": "datum.value % 1 == 0", "value": 1}, "value": 0}}}}},
  {"data": {"name": "p5"}, "mark": {"type": "circle", "color": "#8B0000", "size": 110, "opacity": 1}, "encoding": {"y": {"field": "v", "type": "quantitative", "title": "Average No. of Clusters (Log)"}}},
  {"data": {"name": "p5s"}, "mark": {"type": "area", "color": "#999999", "opacity": 0.4, "interpolate": "monotone"}, "encoding": {"y": {"field": "lo", "type": "quantitative", "title": "Average No. of Clusters (Log)"}, "y2": {"field": "hi"}}},
  {"data": {"name": "p5s"}, "mark": {"type": "line", "color": "#000000", "strokeWidth": 3, "strokeDash": [11, 7], "interpolate": "monotone"}, "encoding": {"y": {"field": "f", "type": "quantitative", "title": "Average No. of Clusters (Log)"}}}
 ]},
{"width": 350, "height": 200, "title": {"text": "Philippines", "offset": -6},
 "encoding": {"x": {"field": "d", "type": "quantitative", "scale": {"domain": [-0.55, 77.55], "nice": false, "zero": false}, "axis": {"title": "Day", "tickCount": 20, "labelOverlap": false, "values": [0,10,20,30,40,50,60,70], "labelExpr": "datum.value % 20 === 0 ? datum.label : ' '", "gridWidth": {"condition": {"test": "datum.value % 20 === 0", "value": 1.6}, "value": 0.8}, "tickOpacity": {"condition": {"test": "datum.value % 20 === 0", "value": 1}, "value": 0}}}},
 "layer": [
  {"data": {"name": "p6"}, "mark": {"type": "line", "color": "#8B0000", "strokeWidth": 3.5}, "encoding": {"y": {"field": "v", "type": "quantitative", "title": "Average No. of Clusters (Log)", "scale": {"domain": [6.42, 10.18], "nice": false, "zero": false}, "axis": {"tickCount": 20, "labelOverlap": false, "values": [6.5,7,7.5,8,8.5,9,9.5,10], "format": ".0f", "labelExpr": "datum.value % 1 == 0 ? datum.label : ' '", "gridWidth": {"condition": {"test": "datum.value % 1 == 0", "value": 1.6}, "value": 0.8}, "tickOpacity": {"condition": {"test": "datum.value % 1 == 0", "value": 1}, "value": 0}}}}},
  {"data": {"name": "p6"}, "mark": {"type": "circle", "color": "#8B0000", "size": 110, "opacity": 1}, "encoding": {"y": {"field": "v", "type": "quantitative", "title": "Average No. of Clusters (Log)"}}},
  {"data": {"name": "p6s"}, "mark": {"type": "area", "color": "#999999", "opacity": 0.4, "interpolate": "monotone"}, "encoding": {"y": {"field": "lo", "type": "quantitative", "title": "Average No. of Clusters (Log)"}, "y2": {"field": "hi"}}},
  {"data": {"name": "p6s"}, "mark": {"type": "line", "color": "#000000", "strokeWidth": 3, "strokeDash": [11, 7], "interpolate": "monotone"}, "encoding": {"y": {"field": "f", "type": "quantitative", "title": "Average No. of Clusters (Log)"}}}
 ]},
{"width": 350, "height": 200, "title": {"text": "US", "offset": 7},
 "encoding": {"x": {"field": "d", "type": "quantitative", "scale": {"domain": [-0.55, 77.55], "nice": false, "zero": false}, "axis": {"title": "Day", "tickCount": 20, "labelOverlap": false, "values": [0,10,20,30,40,50,60,70], "labelExpr": "datum.value % 20 === 0 ? datum.label : ' '", "gridWidth": {"condition": {"test": "datum.value % 20 === 0", "value": 1.6}, "value": 0.8}, "tickOpacity": {"condition": {"test": "datum.value % 20 === 0", "value": 1}, "value": 0}}}},
 "layer": [
  {"data": {"name": "p7"}, "mark": {"type": "line", "color": "#8B0000", "strokeWidth": 3.5}, "encoding": {"y": {"field": "v", "type": "quantitative", "title": "Average Cluster Size", "scale": {"domain": [1.0, 24.8], "nice": false, "zero": false}, "axis": {"tickCount": 20, "labelOverlap": false, "values": [2.5,5,7.5,10,12.5,15,17.5,20,22.5], "format": ".0f", "labelExpr": "datum.value % 5 == 0 ? datum.label : ' '", "gridWidth": {"condition": {"test": "datum.value % 5 == 0", "value": 1.6}, "value": 0.8}, "tickOpacity": {"condition": {"test": "datum.value % 5 == 0", "value": 1}, "value": 0}}}}},
  {"data": {"name": "p7"}, "mark": {"type": "circle", "color": "#8B0000", "size": 110, "opacity": 1}, "encoding": {"y": {"field": "v", "type": "quantitative", "title": "Average Cluster Size"}}},
  {"data": {"name": "p7s"}, "mark": {"type": "area", "color": "#999999", "opacity": 0.4, "interpolate": "monotone"}, "encoding": {"y": {"field": "lo", "type": "quantitative", "title": "Average Cluster Size"}, "y2": {"field": "hi"}}},
  {"data": {"name": "p7s"}, "mark": {"type": "line", "color": "#000000", "strokeWidth": 3, "strokeDash": [11, 7], "interpolate": "monotone"}, "encoding": {"y": {"field": "f", "type": "quantitative", "title": "Average Cluster Size"}}}
 ]},
{"width": 350, "height": 200, "title": {"text": "Philippines", "offset": 7},
 "encoding": {"x": {"field": "d", "type": "quantitative", "scale": {"domain": [-0.55, 77.55], "nice": false, "zero": false}, "axis": {"title": "Day", "tickCount": 20, "labelOverlap": false, "values": [0,10,20,30,40,50,60,70], "labelExpr": "datum.value % 20 === 0 ? datum.label : ' '", "gridWidth": {"condition": {"test": "datum.value % 20 === 0", "value": 1.6}, "value": 0.8}, "tickOpacity": {"condition": {"test": "datum.value % 20 === 0", "value": 1}, "value": 0}}}},
 "layer": [
  {"data": {"name": "p8"}, "mark": {"type": "line", "color": "#8B0000", "strokeWidth": 3.5}, "encoding": {"y": {"field": "v", "type": "quantitative", "title": "Average Cluster Size", "scale": {"domain": [5.2, 27.0], "nice": false, "zero": false}, "axis": {"tickCount": 20, "labelOverlap": false, "values": [7.5,10,12.5,15,17.5,20,22.5,25], "format": ".0f", "labelExpr": "datum.value % 5 == 0 ? datum.label : ' '", "gridWidth": {"condition": {"test": "datum.value % 5 == 0", "value": 1.6}, "value": 0.8}, "tickOpacity": {"condition": {"test": "datum.value % 5 == 0", "value": 1}, "value": 0}}}}},
  {"data": {"name": "p8"}, "mark": {"type": "circle", "color": "#8B0000", "size": 110, "opacity": 1}, "encoding": {"y": {"field": "v", "type": "quantitative", "title": "Average Cluster Size"}}},
  {"data": {"name": "p8s"}, "mark": {"type": "area", "color": "#999999", "opacity": 0.4, "interpolate": "monotone"}, "encoding": {"y": {"field": "lo", "type": "quantitative", "title": "Average Cluster Size"}, "y2": {"field": "hi"}}},
  {"data": {"name": "p8s"}, "mark": {"type": "line", "color": "#000000", "strokeWidth": 3, "strokeDash": [11, 7], "interpolate": "monotone"}, "encoding": {"y": {"field": "f", "type": "quantitative", "title": "Average Cluster Size"}}}
 ]},
{"width": 350, "height": 200, "title": {"text": "US", "offset": -9},
 "encoding": {"x": {"field": "d", "type": "quantitative", "scale": {"domain": [-0.65, 79.65], "nice": false, "zero": false}, "axis": {"title": "Day", "tickCount": 20, "labelOverlap": false, "values": [0,10,20,30,40,50,60,70], "labelExpr": "datum.value % 20 === 0 ? datum.label : ' '", "gridWidth": {"condition": {"test": "datum.value % 20 === 0", "value": 1.6}, "value": 0.8}, "tickOpacity": {"condition": {"test": "datum.value % 20 === 0", "value": 1}, "value": 0}}}},
 "layer": [
  {"data": {"name": "p9"}, "mark": {"type": "line", "color": "#8B0000", "strokeWidth": 3.5}, "encoding": {"y": {"field": "v", "type": "quantitative", "title": "Controlled Homogeneity Score", "scale": {"domain": [-0.605, 0.477], "nice": false, "zero": false}, "axis": {"tickCount": 20, "labelOverlap": false, "values": [-0.5,-0.375,-0.25,-0.125,0,0.125,0.25,0.375], "format": ".2f", "labelExpr": "datum.value % 0.25 == 0 ? datum.label : ' '", "gridWidth": {"condition": {"test": "datum.value % 0.25 == 0", "value": 1.6}, "value": 0.8}, "tickOpacity": {"condition": {"test": "datum.value % 0.25 == 0", "value": 1}, "value": 0}}}}},
  {"data": {"name": "p9"}, "mark": {"type": "circle", "color": "#8B0000", "size": 110, "opacity": 1}, "encoding": {"y": {"field": "v", "type": "quantitative", "title": "Controlled Homogeneity Score"}}},
  {"data": {"name": "p9s"}, "mark": {"type": "area", "color": "#999999", "opacity": 0.4, "interpolate": "monotone"}, "encoding": {"y": {"field": "lo", "type": "quantitative", "title": "Controlled Homogeneity Score"}, "y2": {"field": "hi"}}},
  {"data": {"name": "p9s"}, "mark": {"type": "line", "color": "#000000", "strokeWidth": 3, "strokeDash": [11, 7], "interpolate": "monotone"}, "encoding": {"y": {"field": "f", "type": "quantitative", "title": "Controlled Homogeneity Score"}}}
 ]},
{"width": 350, "height": 200, "title": {"text": "Philippines", "offset": -9},
 "encoding": {"x": {"field": "d", "type": "quantitative", "scale": {"domain": [-0.6, 78.6], "nice": false, "zero": false}, "axis": {"title": "Day", "tickCount": 20, "labelOverlap": false, "values": [0,10,20,30,40,50,60,70], "labelExpr": "datum.value % 20 === 0 ? datum.label : ' '", "gridWidth": {"condition": {"test": "datum.value % 20 === 0", "value": 1.6}, "value": 0.8}, "tickOpacity": {"condition": {"test": "datum.value % 20 === 0", "value": 1}, "value": 0}}}},
 "layer": [
  {"data": {"name": "p10"}, "mark": {"type": "line", "color": "#8B0000", "strokeWidth": 3.5}, "encoding": {"y": {"field": "v", "type": "quantitative", "title": "Controlled Homogeneity Score", "scale": {"domain": [-0.207, 0.109], "nice": false, "zero": false}, "axis": {"tickCount": 20, "labelOverlap": false, "values": [-0.2,-0.15,-0.1,-0.05,0,0.05,0.1], "format": ".1f", "labelExpr": "(datum.value == -0.2 || datum.value == -0.1 || datum.value == 0 || datum.value == 0.1) ? datum.label : ' '", "gridWidth": {"condition": {"test": "datum.value == -0.2 || datum.value == -0.1 || datum.value == 0 || datum.value == 0.1", "value": 1.6}, "value": 0.8}, "tickOpacity": {"condition": {"test": "datum.value == -0.2 || datum.value == -0.1 || datum.value == 0 || datum.value == 0.1", "value": 1}, "value": 0}}}}},
  {"data": {"name": "p10"}, "mark": {"type": "circle", "color": "#8B0000", "size": 110, "opacity": 1}, "encoding": {"y": {"field": "v", "type": "quantitative", "title": "Controlled Homogeneity Score"}}},
  {"data": {"name": "p10s"}, "mark": {"type": "area", "color": "#999999", "opacity": 0.4, "interpolate": "monotone"}, "encoding": {"y": {"field": "lo", "type": "quantitative", "title": "Controlled Homogeneity Score"}, "y2": {"field": "hi"}}},
  {"data": {"name": "p10s"}, "mark": {"type": "line", "color": "#000000", "strokeWidth": 3, "strokeDash": [11, 7], "interpolate": "monotone"}, "encoding": {"y": {"field": "f", "type": "quantitative", "title": "Controlled Homogeneity Score"}}}
 ]}
]
}
